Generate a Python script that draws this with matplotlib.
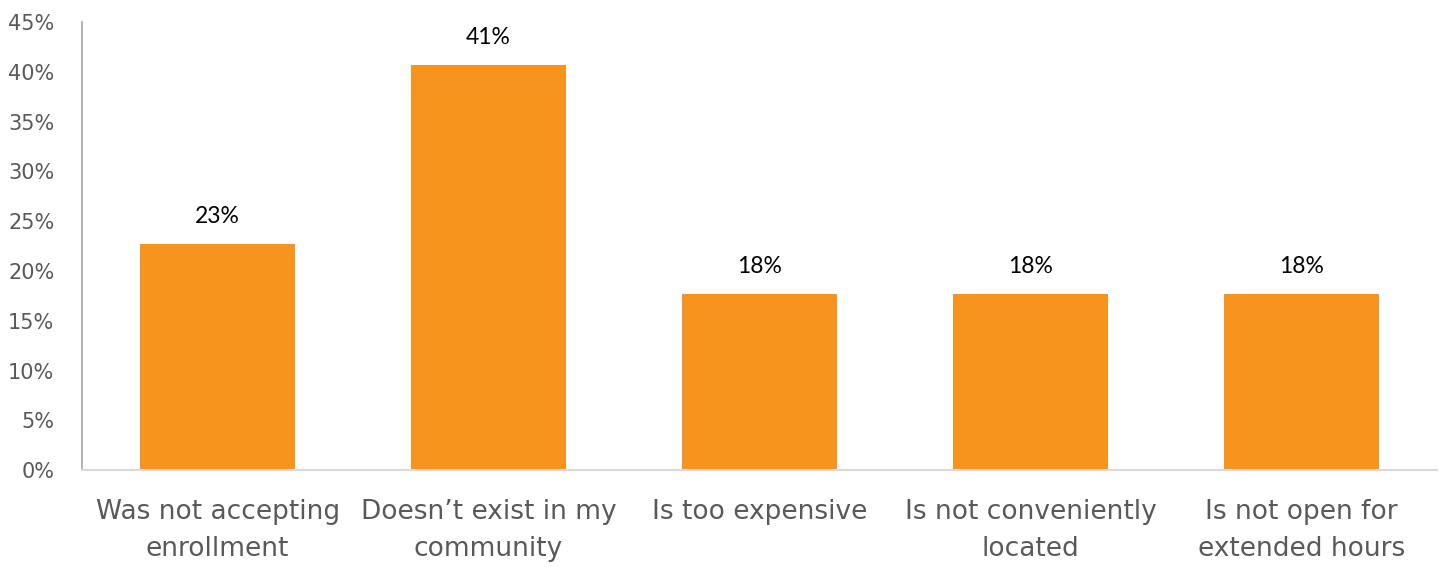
import matplotlib
matplotlib.use("Agg")
import matplotlib.pyplot as plt

# data
categories = ["Was not accepting\nenrollment", "Doesn\u2019t exist in my\ncommunity",
              "Is too expensive", "Is not conveniently\nlocated", "Is not open for\nextended hours"]
values = [22.7, 40.7, 17.7, 17.7, 17.7]
labels = ["23%", "41%", "18%", "18%", "18%"]
yticks = [0, 5, 10, 15, 20, 25, 30, 35, 40, 45]

ORANGE = "#F7941D"
AXIS_TXT = "#595959"

fig = plt.figure(figsize=(14.4, 5.67), dpi=100)
ax = fig.add_axes([0.057, 0.171, 0.941, 0.790])

x = range(len(categories))
bars = ax.bar(x, values, width=0.57, color=ORANGE, zorder=2)

for b, lab in zip(bars, labels):
    ax.annotate(lab, (b.get_x() + b.get_width() / 2, b.get_height()),
                xytext=(0, 12), textcoords="offset points",
                ha="center", va="bottom", fontsize=16.5, color="black",
                family=["Lato", "DejaVu Sans"])

ax.set_xlim(-0.5, len(categories) - 0.5)
ax.set_ylim(0, 45)
ax.set_yticks(yticks)
ax.set_yticklabels([f"{t}%" for t in yticks], fontsize=15, color=AXIS_TXT,
                   family="DejaVu Sans")
ax.set_xticks(list(x))
ax.set_xticklabels(categories, fontsize=19, color=AXIS_TXT, linespacing=1.55,
                   family="DejaVu Sans")
ax.tick_params(axis="both", length=0)
ax.tick_params(axis="y", pad=20)
ax.tick_params(axis="x", pad=21)

for s in ["top", "right"]:
    ax.spines[s].set_visible(False)
ax.spines["left"].set_color("#A6A6A6")
ax.spines["left"].set_linewidth(1.2)
ax.spines["bottom"].set_color("#D9D9D9")
ax.spines["bottom"].set_linewidth(1.5)

fig.savefig("out.png", dpi=100, facecolor="white")
